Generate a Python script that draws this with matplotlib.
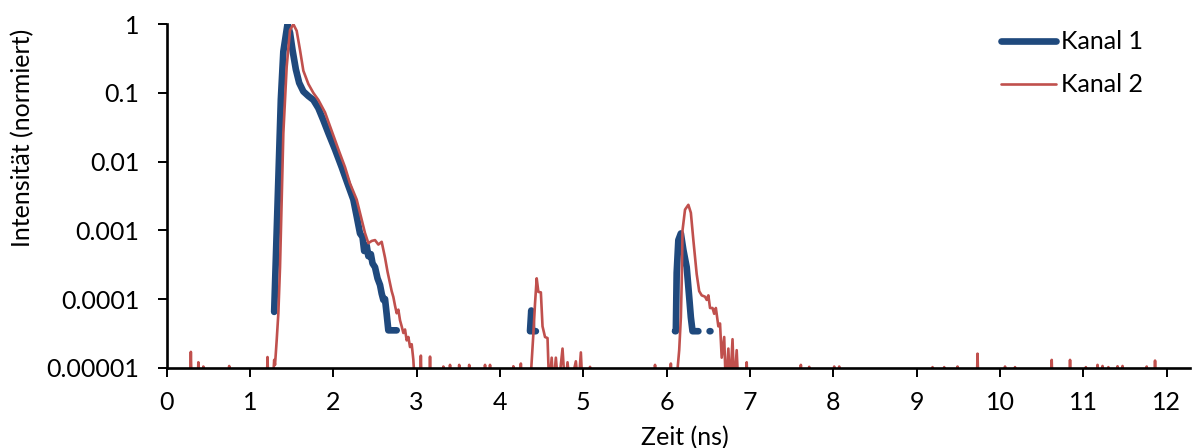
#!/usr/bin/env python3
"""Normierte Intensität zweier Kanäle über der Zeit (log-Skala)."""

import matplotlib
matplotlib.use("Agg")
import matplotlib.pyplot as plt
import numpy as np
from matplotlib.ticker import NullLocator

nan = np.nan
Z = 5e-6  # unter der Achse (Rauschboden, wird abgeschnitten)

# Kanal 1: (Zeit in ns, Intensität), nan = Lücke
kanal1 = [
    (1.29, 6.5e-5), (1.37, 0.08), (1.40, 0.4), (1.45, 1.0), (1.48, 0.75),
    (1.51, 0.42), (1.55, 0.22), (1.59, 0.14), (1.64, 0.105), (1.70, 0.09),
    (1.76, 0.079), (1.82, 0.06), (1.88, 0.04), (1.94, 0.026), (2.02, 0.015),
    (2.10, 0.0083), (2.17, 0.0048), (2.24, 0.0028), (2.28, 0.0016),
    (2.32, 0.0009), (2.35, 0.0008), (2.37, 0.0005), (2.40, 0.0006),
    (2.42, 0.00042), (2.45, 0.00045), (2.47, 0.00033), (2.50, 0.00029),
    (2.53, 0.0002), (2.56, 0.00016), (2.58, 0.00012), (2.60, 0.000097),
    (2.62, 0.0001), (2.64, 0.00006), (2.66, 0.000035), (2.71, 0.000035),
    (2.76, 0.000035),
    (nan, nan),
    (4.36, 3.4e-5), (4.375, 6.8e-5), (4.385, 3.4e-5), (4.43, 3.4e-5),
    (nan, nan),
    (6.10, 3.4e-5), (6.11, 3.4e-5), (6.12, 2.4e-4), (6.14, 7.2e-4),
    (6.17, 9e-4), (6.20, 5.2e-4), (6.24, 2.9e-4), (6.27, 1.07e-4),
    (6.29, 5.4e-5), (6.31, 3.4e-5), (6.38, 3.4e-5),
    (nan, nan),
    (6.515, 3.4e-5), (6.525, 3.4e-5),
]

# Kanal 2: (Zeit in ns, Intensität)
kanal2 = [
    (0.00, Z), (0.28, Z), (0.29, 1.7e-5), (0.30, Z), (0.37, Z), (0.38, 1.2e-5),
    (0.39, Z), (0.43, Z), (0.44, 1.04e-5), (0.45, Z),
    (0.74, Z), (0.75, 1.06e-5), (0.76, Z),
    (1.20, Z), (1.21, 1.43e-5), (1.22, Z), (1.27, Z), (1.29, 1.3e-5),
    (1.30, 1.1e-5), (1.32, 2.5e-5), (1.34, 6.2e-5), (1.36, 2.9e-4),
    (1.38, 2.8e-3), (1.40, 0.026), (1.42, 0.079), (1.44, 0.24), (1.48, 0.82),
    (1.52, 1.0), (1.56, 0.8), (1.60, 0.42), (1.64, 0.21), (1.70, 0.135),
    (1.76, 0.1), (1.82, 0.079), (1.90, 0.052), (1.99, 0.026), (2.07, 0.014),
    (2.14, 0.0083), (2.20, 0.0048), (2.28, 0.0028), (2.33, 0.0016),
    (2.38, 0.00091), (2.42, 0.00065), (2.46, 0.0007), (2.50, 0.00072),
    (2.54, 0.00062), (2.58, 0.00068), (2.62, 0.0004), (2.65, 0.00025),
    (2.68, 0.00017), (2.70, 0.00013), (2.72, 0.000107), (2.74, 0.00008),
    (2.76, 0.000062), (2.78, 0.00007), (2.80, 0.000049), (2.82, 0.00004),
    (2.84, 0.000032), (2.86, 0.000036), (2.88, 0.000025), (2.90, 0.000028),
    (2.92, 0.00002), (2.94, 0.000022), (2.96, 0.000013), (2.98, Z),
    (3.04, Z), (3.05, 1.5e-5), (3.06, Z), (3.15, Z), (3.16, 1.45e-5), (3.17, Z),
    (3.31, Z), (3.32, 1.04e-5), (3.33, Z), (3.39, Z), (3.40, 1.1e-5), (3.41, Z),
    (3.50, Z), (3.51, 1.1e-5), (3.52, Z), (3.62, Z), (3.63, 1.1e-5), (3.64, Z),
    (3.81, Z), (3.82, 1.1e-5), (3.83, Z), (3.87, Z), (3.88, 1.1e-5), (3.89, Z),
    (4.15, Z), (4.16, 1.05e-5), (4.17, Z), (4.24, Z), (4.25, 1.15e-5), (4.26, Z),
    (4.36, Z), (4.40, 3.1e-5), (4.42, 8.6e-5), (4.44, 2.0e-4), (4.46, 1.27e-4),
    (4.49, 1.25e-4), (4.51, 4e-5), (4.54, 2.8e-5), (4.57, 2.7e-5), (4.59, Z),
    (4.62, 1.4e-5), (4.64, Z), (4.67, 1.4e-5), (4.70, Z), (4.75, 1.9e-5),
    (4.78, Z), (4.81, 1.2e-5), (4.84, Z), (4.91, 1.24e-5), (4.94, Z),
    (4.97, 1.67e-5), (4.99, Z), (5.07, Z), (5.08, 1.03e-5), (5.09, Z),
    (5.85, Z), (5.86, 1.1e-5), (5.87, Z), (6.04, Z), (6.05, 1.15e-5), (6.06, Z),
    (6.11, Z), (6.15, 1.8e-5), (6.17, 5.4e-5), (6.18, 1.7e-4), (6.19, 1.0e-3),
    (6.22, 2.0e-3), (6.26, 2.35e-3), (6.29, 1.8e-3), (6.32, 7.2e-4),
    (6.36, 2.3e-4), (6.39, 1.3e-4), (6.42, 1.13e-4), (6.46, 1.08e-4),
    (6.48, 9.7e-5), (6.50, 1.13e-4), (6.52, 7.4e-5), (6.55, 7.4e-5),
    (6.57, 6.1e-5), (6.59, 7.4e-5), (6.62, 4e-5), (6.64, 4.4e-5),
    (6.66, 1.4e-5), (6.69, 2.8e-5), (6.71, Z), (6.74, 1.9e-5), (6.76, Z),
    (6.79, 2.6e-5), (6.81, Z), (6.84, 1.8e-5), (6.86, Z),
    (6.95, Z), (6.96, 1.2e-5), (6.97, Z),
    (7.60, Z), (7.61, 1.1e-5), (7.62, Z), (7.70, Z), (7.71, 1.03e-5), (7.72, Z),
    (8.00, Z), (8.01, 1.04e-5), (8.02, Z), (8.06, Z), (8.07, 1.04e-5), (8.08, Z),
    (9.18, Z), (9.19, 1.02e-5), (9.20, Z), (9.32, Z), (9.33, 1.02e-5), (9.34, Z),
    (9.48, Z), (9.49, 1.04e-5), (9.50, Z), (9.72, Z), (9.73, 1.6e-5), (9.74, Z),
    (10.05, Z), (10.06, 1.04e-5), (10.07, Z), (10.17, Z), (10.18, 1.02e-5),
    (10.19, Z), (10.61, Z), (10.62, 1.3e-5), (10.63, Z), (10.83, Z),
    (10.84, 1.3e-5), (10.85, Z), (11.02, Z), (11.03, 1.02e-5), (11.04, Z),
    (11.16, Z), (11.17, 1.1e-5), (11.18, Z), (11.22, Z), (11.23, 1.06e-5),
    (11.24, Z), (11.29, Z), (11.30, 1.02e-5), (11.31, Z), (11.40, Z),
    (11.41, 1.05e-5), (11.42, Z), (11.46, Z), (11.47, 1.06e-5), (11.48, Z),
    (11.75, Z), (11.76, 1.04e-5), (11.77, Z), (11.85, Z), (11.86, 1.27e-5),
    (11.87, Z),
]

y_ticks = [1e-5, 1e-4, 1e-3, 1e-2, 1e-1, 1]
y_labels = ["0.00001", "0.0001", "0.001", "0.01", "0.1", "1"]
x_ticks = list(range(0, 13))

BLUE = "#1F497D"
RED = "#C0504D"

plt.rcParams["font.family"] = ["Lato", "DejaVu Sans"]

t1, v1 = np.array(kanal1, dtype=float).T
t2, v2 = np.array(kanal2, dtype=float).T

fig = plt.figure(figsize=(12, 4.48), dpi=100)
ax = fig.add_axes([0.1389, 0.1792, 0.8528, 0.7668])

ax.plot(t1, v1, color=BLUE, lw=4.8, solid_capstyle="round",
        solid_joinstyle="round", label="Kanal 1")
ax.plot(t2, v2, color=RED, lw=1.9, solid_capstyle="round",
        solid_joinstyle="round", label="Kanal 2")

ax.set_yscale("log")
ax.set_ylim(1e-5, 1)
ax.set_xlim(0, 12.28)
ax.set_yticks(y_ticks, y_labels)
ax.yaxis.set_minor_locator(NullLocator())
ax.set_xticks(x_ticks)

for side in ("top", "right"):
    ax.spines[side].set_visible(False)
for side in ("left", "bottom"):
    ax.spines[side].set_linewidth(1.9)
ax.tick_params(direction="out", length=6.5, width=1.4, labelsize=18)
ax.tick_params(axis="x", pad=10)
ax.tick_params(axis="y", pad=13)

fig.text(23 / 1200, 1 - 138 / 448, "Intensität (normiert)", rotation=90,
         ha="center", va="center", fontsize=18)
fig.text(685 / 1200, 1 - 445 / 448, "Zeit (ns)", ha="center",
         va="baseline", fontsize=18)

ax.legend(loc="upper left", bbox_to_anchor=(0.834, 0.932),
          bbox_transform=fig.transFigure, frameon=False, fontsize=18,
          handlelength=2.2, handletextpad=0.2, labelspacing=0.8,
          borderpad=0, borderaxespad=0)

fig.savefig("out.png", dpi=100)
